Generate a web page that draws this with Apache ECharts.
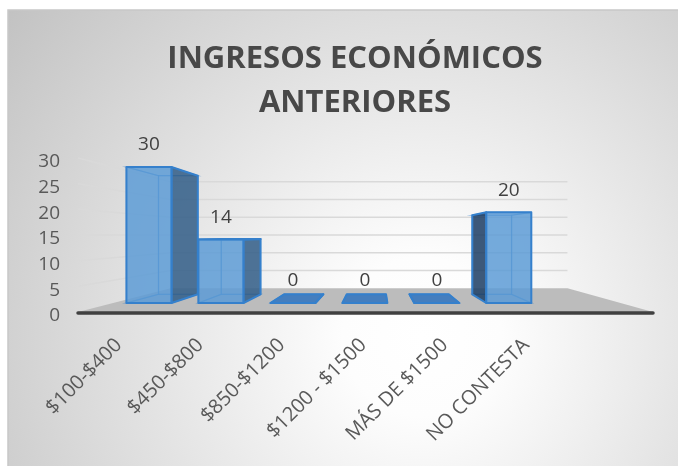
<!DOCTYPE html>
<html>
<head>
<meta charset="utf-8">
<script src="https://cdn.jsdelivr.net/npm/echarts@6/dist/echarts.min.js"></script>
<style>
  html, body { margin: 0; padding: 0; background: #fff; overflow: hidden; }
  #chart { width: 678px; height: 466px; }
</style>
</head>
<body>
<div id="chart"></div>
<script>
(function(){
	// datos
	var categories = ['$100-$400', '$450-$800', '$850-$1200', '$1200 - $1500', 'MÁS DE $1500', 'NO CONTESTA'];
	var values = [30, 14, 0, 0, 0, 20];
	var yTicks = [0, 5, 10, 15, 20, 25, 30];

	// perspectiva (pseudo 3D)
	var VP = [377, 235];       // punto de fuga
	var T_BAR0 = 0.117;        // profundidad cara frontal barra
	var T_BAR1 = 0.23;         // profundidad cara trasera barra
	var T_WALL = 0.31;         // pared del fondo
	var FLOOR_RIGHT = 653;
	var BAR_W = 0.626;

	function proj(p, t) {
		return [p[0] + (VP[0] - p[0]) * t, p[1] + (VP[1] - p[1]) * t];
	}

	function poly(points, style, z2) {
		return { type: 'polygon', shape: { points: points }, style: style, z2: z2 || 0 };
	}

	// paredes, suelo y lineas de division
	function renderWalls(params, api) {
		var v = api.value(1);
		var c = api.coord([0, v]);
		var left = c[0] - api.size([1, 0])[0] / 2;
		var y = c[1];
		var a = [left, y], b = [FLOOR_RIGHT, y];
		var a1 = proj(a, T_WALL), b1 = proj(b, T_WALL);
		if (v === 0) {
			return {
				type: 'group',
				children: [
					poly([a, b, b1, a1], { fill: '#bcbcbc' }),
					{ type: 'line', shape: { x1: a[0], y1: y + 1, x2: b[0], y2: y + 1 },
					  style: { stroke: '#404040', lineWidth: 3.5, lineCap: 'round' } }
				]
			};
		}
		return {
			type: 'polyline',
			shape: { points: [a, a1, b1] },
			style: { stroke: '#d9d9d9', lineWidth: 1.5, fill: null }
		};
	}

	var EDGE = '#3580cc';
	function renderBar(params, api) {
		var i = api.value(0), v = api.value(1);
		var c0 = api.coord([i, 0]), c1 = api.coord([i, v]);
		var w = api.size([1, 0])[0] * BAR_W;
		var xl = c0[0] - w / 2, xr = c0[0] + w / 2;
		var y0 = c0[1], y1 = c1[1];
		var P = function (x, y, t) { return proj([x, y], t); };
		var BL0 = P(xl, y0, T_BAR0), BR0 = P(xr, y0, T_BAR0), TL0 = P(xl, y1, T_BAR0), TR0 = P(xr, y1, T_BAR0);
		var BL1 = P(xl, y0, T_BAR1), BR1 = P(xr, y0, T_BAR1), TL1 = P(xl, y1, T_BAR1), TR1 = P(xr, y1, T_BAR1);

		var hidden = { fill: 'rgba(91,155,213,0.12)', stroke: 'rgba(53,128,204,0.55)', lineWidth: 1.2 };
		var kids = [];
		// caras ocultas
		kids.push(poly([BL1, BR1, TR1, TL1], hidden));
		kids.push(poly([BL0, BR0, BR1, BL1], hidden));
		if (xr >= VP[0]) kids.push(poly([BR0, BR1, TR1, TR0], hidden));
		if (xl <= VP[0]) kids.push(poly([BL0, BL1, TL1, TL0], hidden));
		if (y1 <= VP[1]) kids.push(poly([TL0, TR0, TR1, TL1], hidden));
		// caras visibles
		var vis = { stroke: EDGE, lineWidth: 2, lineJoin: 'round' };
		if (xr < VP[0]) kids.push(poly([BR0, BR1, TR1, TR0], Object.assign({ fill: 'rgba(52,94,135,0.85)' }, vis)));
		if (xl > VP[0]) kids.push(poly([BL0, BL1, TL1, TL0], Object.assign({ fill: 'rgba(31,62,100,0.85)' }, vis)));
		if (y1 > VP[1]) kids.push(poly([TL0, TR0, TR1, TL1], Object.assign({ fill: 'rgba(60,120,190,0.92)' }, vis)));
		if (v > 0) kids.push(poly([BL0, BR0, TR0, TL0], Object.assign({ fill: 'rgba(91,155,213,0.82)' }, vis)));

		var top = P(c0[0], y1, T_BAR0);
		kids.push({
			type: 'text',
			x: top[0], y: top[1] - 22,
			style: { text: String(v), fill: '#404040', font: '19px "Open Sans"', align: 'center', verticalAlign: 'middle' },
			z2: 10
		});
		return { type: 'group', children: kids };
	}

	var chart = echarts.init(document.getElementById('chart'));
	chart.setOption({
		animation: false,
		graphic: [{
			type: 'rect',
			shape: { x: 8, y: 10, width: 690, height: 480 },
			style: {
				fill: new echarts.graphic.RadialGradient(0.6, 0.68, 1.1, [
					{ offset: 0, color: '#ffffff' },
					{ offset: 0.15, color: '#fdfdfd' },
					{ offset: 1, color: '#c2c2c2' }
				]),
				stroke: '#c8c8c8', lineWidth: 1.5
			},
			z: -10, silent: true
		}],
		title: {
			text: 'INGRESOS ECONÓMICOS\nANTERIORES',
			left: 350, top: 32,
			textAlign: 'center',
			textStyle: { fontFamily: 'Open Sans', fontSize: 31, fontWeight: 'bold', color: '#484848', lineHeight: 44 }
		},
		grid: { left: 78, top: 158, width: 489, height: 154 },
		xAxis: {
			type: 'category',
			data: categories,
			axisLine: { show: false },
			axisTick: { show: false },
			axisLabel: { rotate: 45, margin: 30, fontFamily: 'Open Sans', fontSize: 20, color: '#595959', interval: 0 }
		},
		yAxis: {
			type: 'value', min: 0, max: 30, interval: 5,
			axisLine: { show: false },
			axisTick: { show: false },
			splitLine: { show: false },
			axisLabel: {
				margin: 18,
				formatter: '{v|{value}}',
				rich: { v: { padding: [8, 0, 0, 0], fontFamily: 'Open Sans', fontSize: 19, color: '#595959' } }
			}
		},
		series: [{
			type: 'custom',
			clip: false,
			silent: true,
			renderItem: renderWalls,
			data: yTicks.map(function (v) { return [0, v]; }),
			z: 1
		}, {
			type: 'custom',
			clip: false,
			silent: true,
			renderItem: renderBar,
			data: values.map(function (v, i) { return [i, v]; }),
			z: 3
		}]
	});
})();
</script>
</body>
</html>
